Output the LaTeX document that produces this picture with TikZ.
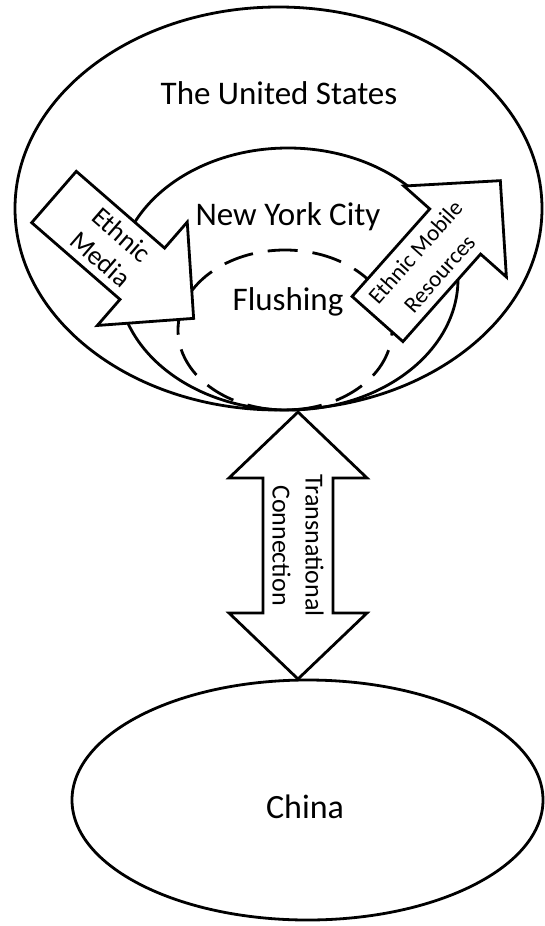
\documentclass[tikz,border=0pt]{standalone}
\usepackage{fontspec}
\setmainfont{Carlito}
\usetikzlibrary{shapes.geometric, calc}
\tikzset{
  region/.style={draw, ellipse, line width=2.8pt, inner sep=0pt},
  blockarrow/.style={draw, fill=white, line width=2.8pt, line join=miter},
  biglabel/.style={font=\fontsize{33}{40}\selectfont, anchor=base},
  arrowlabel/.style={align=center, inner sep=0pt},
}

\begin{document}
\begin{tikzpicture}[x=1pt, y=-1pt]
  \useasboundingbox (0,0) rectangle (545,926);
  % Nested regions
  \node[region, minimum width=527pt, minimum height=403pt] (us) at (278.5,208.5) {};
  \node[region, minimum width=340pt, minimum height=262pt] (nyc) at (288,279) {};
  \node[region, dash pattern=on 30pt off 15pt, minimum width=214pt, minimum height=160pt] (flushing) at (285,330) {};
  \node[region, minimum width=471pt, minimum height=240pt] (china) at (307.5,800) {};
  % Ethnic Media arrow (pointing in)
  \begin{scope}[shift={(54,197)}, rotate=-41]
    \draw[blockarrow] (0,-34) -- (117,-34) -- (117,-68.5) -- (185,0) -- (117,68.5) -- (117,34) -- (0,34) -- cycle;
    \node[arrowlabel, rotate=-41, font=\fontsize{27}{32}\selectfont] (media) at (76,0) {Ethnic\\Media};
  \end{scope}
  % Ethnic Mobile Resources arrow (pointing out)
  \begin{scope}[shift={(377.5,319)}, rotate=48.4]
    \draw[blockarrow] (0,-34) -- (117,-34) -- (117,-68.5) -- (185,0) -- (117,68.5) -- (117,34) -- (0,34) -- cycle;
    \node[arrowlabel, rotate=48.4, font=\fontsize{23}{32}\selectfont] (resources) at (75,0) {Ethnic Mobile\\Resources};
  \end{scope}
  % Transnational link
  \coordinate (utip) at (298,412);
  \coordinate (ctip) at (298,679);
  \draw[blockarrow] (utip) -- ++(69,66) -- ++(-34,0) -- ($(ctip)+(35,-66)$) -- ++(34,0) -- (ctip)
    -- ++(-69,-66) -- ++(34,0) -- ($(utip)+(-35,66)$) -- ++(-34,0) -- cycle;
  \node[arrowlabel, rotate=-90, font=\fontsize{26}{33}\selectfont] (link) at ($(utip)!0.5!(ctip)$) {Transnational\\Connection};
  % Region names
  \node[biglabel] (uslabel) at (279,104) {The United States};
  \node[biglabel] (nyclabel) at (288,225) {New York City};
  \node[biglabel] (flushinglabel) at (288,310) {Flushing};
  \node[biglabel, font=\fontsize{34}{40}\selectfont] (chinalabel) at (305,818) {China};
\end{tikzpicture}
\end{document}
